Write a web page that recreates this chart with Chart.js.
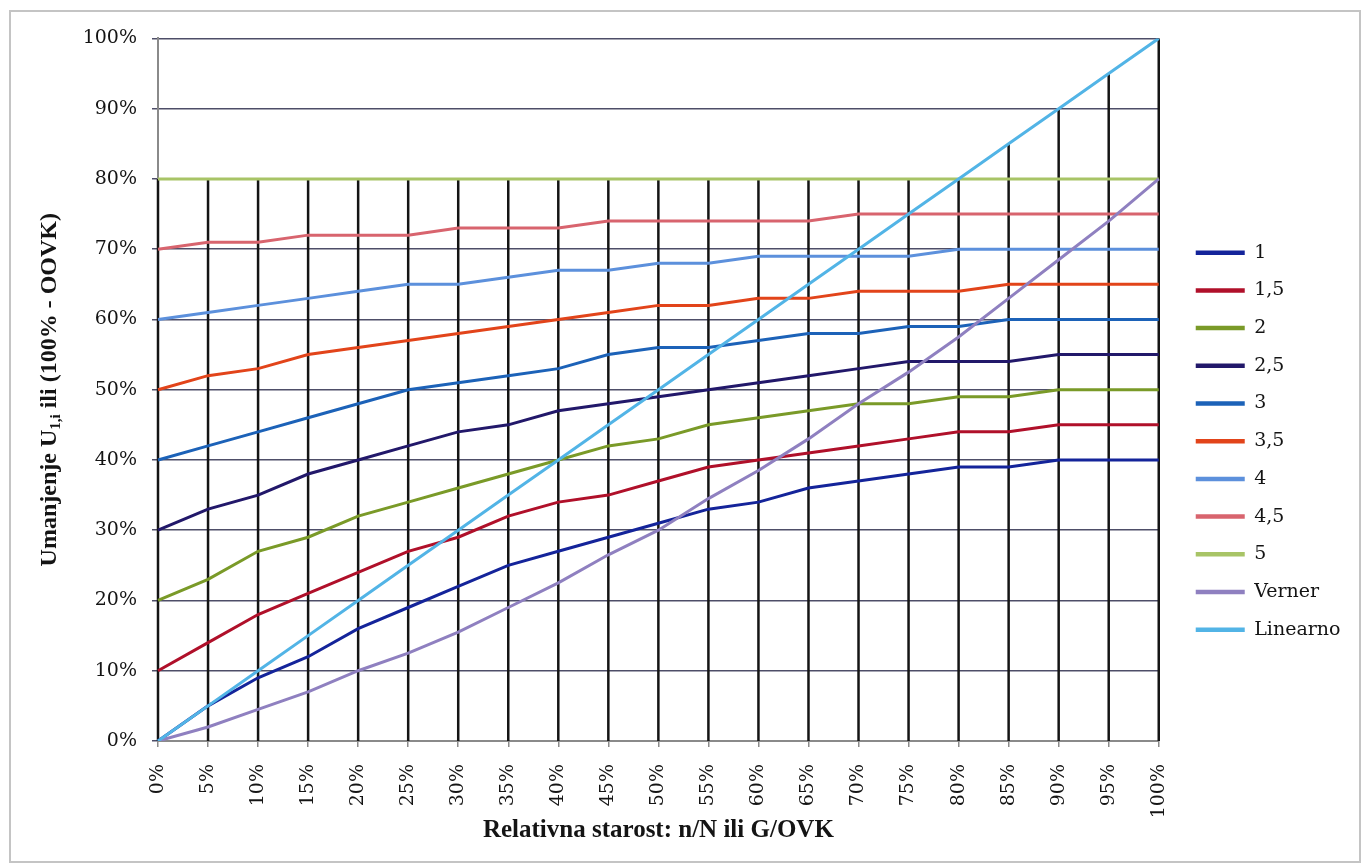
<!DOCTYPE html>
<html>
<head>
<meta charset="utf-8">
<title>Umanjenje</title>
<script src="https://cdn.jsdelivr.net/npm/chart.js@4/dist/chart.umd.min.js"></script>
<style>
  body { margin: 0; background: #fff; }
  #frame {
    position: absolute; left: 9px; top: 10px;
    width: 1352px; height: 853px;
    box-sizing: border-box;
    border: 2px solid #c4c4c4;
  }
  #wrap { position: relative; width: 1348px; height: 849px; }
</style>
</head>
<body>
<div id="frame"><div id="wrap"><canvas id="chartjs-0"></canvas></div></div>
<script>
// x categories (relative age)
var starost = ["0%", "5%", "10%", "15%", "20%", "25%", "30%", "35%", "40%", "45%", "50%",
               "55%", "60%", "65%", "70%", "75%", "80%", "85%", "90%", "95%", "100%"];

// series values in percent
var u1    = [0, 5, 9, 12, 16, 19, 22, 25, 27, 29, 31, 33, 34, 36, 37, 38, 39, 39, 40, 40, 40];
var u1_5  = [10, 14, 18, 21, 24, 27, 29, 32, 34, 35, 37, 39, 40, 41, 42, 43, 44, 44, 45, 45, 45];
var u2    = [20, 23, 27, 29, 32, 34, 36, 38, 40, 42, 43, 45, 46, 47, 48, 48, 49, 49, 50, 50, 50];
var u2_5  = [30, 33, 35, 38, 40, 42, 44, 45, 47, 48, 49, 50, 51, 52, 53, 54, 54, 54, 55, 55, 55];
var u3    = [40, 42, 44, 46, 48, 50, 51, 52, 53, 55, 56, 56, 57, 58, 58, 59, 59, 60, 60, 60, 60];
var u3_5  = [50, 52, 53, 55, 56, 57, 58, 59, 60, 61, 62, 62, 63, 63, 64, 64, 64, 65, 65, 65, 65];
var u4    = [60, 61, 62, 63, 64, 65, 65, 66, 67, 67, 68, 68, 69, 69, 69, 69, 70, 70, 70, 70, 70];
var u4_5  = [70, 71, 71, 72, 72, 72, 73, 73, 73, 74, 74, 74, 74, 74, 75, 75, 75, 75, 75, 75, 75];
var u5    = [80, 80, 80, 80, 80, 80, 80, 80, 80, 80, 80, 80, 80, 80, 80, 80, 80, 80, 80, 80, 80];
var verner   = [0, 2, 4.5, 7, 10, 12.5, 15.5, 19, 22.5, 26.5, 30, 34.5, 38.5, 43, 48, 52.5, 57.5, 63, 68.5, 74, 80];
var linearno = [0, 5, 10, 15, 20, 25, 30, 35, 40, 45, 50, 55, 60, 65, 70, 75, 80, 85, 90, 95, 100];

// y axis tick labels
var yTicks = [0, 10, 20, 30, 40, 50, 60, 70, 80, 90, 100];

var names  = ["1", "1,5", "2", "2,5", "3", "3,5", "4", "4,5", "5", "Verner", "Linearno"];
var series = [u1, u1_5, u2, u2_5, u3, u3_5, u4, u4_5, u5, verner, linearno];
var colors = ["#14249a", "#b0102a", "#7a9a28", "#22186a", "#1c62b8", "#e2441a",
              "#5c90dc", "#d8646e", "#a8c466", "#8f80c0", "#52b4e6"];

var datasets = [];
for (var i = 0; i < series.length; i++) {
    datasets.push({
        label: names[i],
        data: series[i],
        borderColor: colors[i],
        backgroundColor: colors[i],
        borderWidth: 3,
        pointRadius: 0,
        pointHoverRadius: 0,
        tension: 0,
        fill: false,
        order: -i
    });
}

var serif = "'DejaVu Serif', serif";
var titleSerif = "'Liberation Serif', serif";

/* Excel style drop lines: black line from the top series down to the x axis */
var dropLines = {
    id: "dropLines",
    beforeDatasetsDraw: function (chart) {
        var ctx = chart.ctx;
        var xs = chart.scales.x, ys = chart.scales.y;
        ctx.save();
        ctx.strokeStyle = "#141414";
        ctx.lineWidth = 2.5;
        for (var k = 0; k < starost.length; k++) {
            var top = 0;
            for (var s = 0; s < series.length; s++) {
                if (series[s][k] > top) top = series[s][k];
            }
            var x = xs.getPixelForValue(k);
            ctx.beginPath();
            ctx.moveTo(x, ys.getPixelForValue(top));
            ctx.lineTo(x, ys.getPixelForValue(0));
            ctx.stroke();
        }
        ctx.restore();
    }
};

/* y title with subscript */
var yTitle = {
    id: "yTitle",
    afterDraw: function (chart) {
        var ctx = chart.ctx, a = chart.chartArea;
        var parts = [
            ["Umanjenje U", "bold 24px " + titleSerif, 0],
            ["1,i", "bold 15px " + titleSerif, 6],
            [" ili (100% - OOVK)", "bold 24px " + titleSerif, 0]
        ];
        ctx.save();
        ctx.translate(a.left - 108, (a.top + a.bottom) / 2);
        ctx.rotate(-Math.PI / 2);
        ctx.fillStyle = "#141414";
        ctx.textBaseline = "middle";
        ctx.textAlign = "left";
        var total = 0;
        parts.forEach(function (p) { ctx.font = p[1]; total += ctx.measureText(p[0]).width; });
        var x = -total / 2;
        parts.forEach(function (p) {
            ctx.font = p[1];
            ctx.fillText(p[0], x, p[2]);
            x += ctx.measureText(p[0]).width;
        });
        ctx.restore();
    }
};

var ctx0 = document.getElementById("chartjs-0");
var myChart = new Chart(ctx0, {
    type: "line",
    data: { labels: starost, datasets: datasets },
    plugins: [dropLines, yTitle],
    options: {
        responsive: true,
        maintainAspectRatio: false,
        animation: false,
        layout: { padding: { left: 0, right: 8.5, top: 25, bottom: 15.6 } },
        plugins: {
            tooltip: { enabled: false },
            legend: {
                position: "right",
                labels: {
                    usePointStyle: true,
                    pointStyle: "line",
                    pointStyleWidth: 49,
                    padding: 18.7,
                    color: "#141414",
                    font: { family: serif, size: 19 },
                    sort: function (a, b) { return a.datasetIndex - b.datasetIndex; },
                    generateLabels: function (chart) {
                        var items = Chart.defaults.plugins.legend.labels.generateLabels(chart);
                        items.forEach(function (it) { it.lineWidth = 4.5; });
                        return items;
                    }
                }
            }
        },
        scales: {
            x: {
                afterFit: function (scale) { scale.height = 104.4; },
                grid: { display: true, drawOnChartArea: false, drawTicks: true, tickLength: 6, color: "#8a8a8a", lineWidth: 1.5 },
                border: { display: true, color: "#8a8a8a", width: 2 },
                ticks: {
                    autoSkip: false,
                    maxRotation: 90,
                    minRotation: 90,
                    padding: 17,
                    color: "#141414",
                    font: { family: serif, size: 19 }
                },
                title: {
                    display: true,
                    text: "Relativna starost: n/N ili G/OVK",
                    color: "#141414",
                    font: { family: titleSerif, size: 25, weight: "bold" },
                    padding: { top: 6, bottom: 0 }
                }
            },
            y: {
                min: 0,
                max: 100,
                afterBuildTicks: function (scale) {
                    scale.ticks = yTicks.map(function (v) { return { value: v }; });
                },
                afterFit: function (scale) { scale.width = 147; },
                grid: { color: "#4e4e68", lineWidth: 1.5, tickLength: 6, drawTicks: true },
                border: { display: true, color: "#8a8a8a", width: 2 },
                ticks: {
                    padding: 15,
                    color: "#141414",
                    font: { family: serif, size: 19 },
                    callback: function (v) { return v + "%"; }
                }
            },
            gap: {
                type: "linear",
                position: "right",
                display: true,
                grid: { display: false },
                border: { display: false },
                ticks: { display: false },
                afterFit: function (scale) { scale.width = 18.3; }
            }
        }
    }
});
</script>
</body>
</html>
